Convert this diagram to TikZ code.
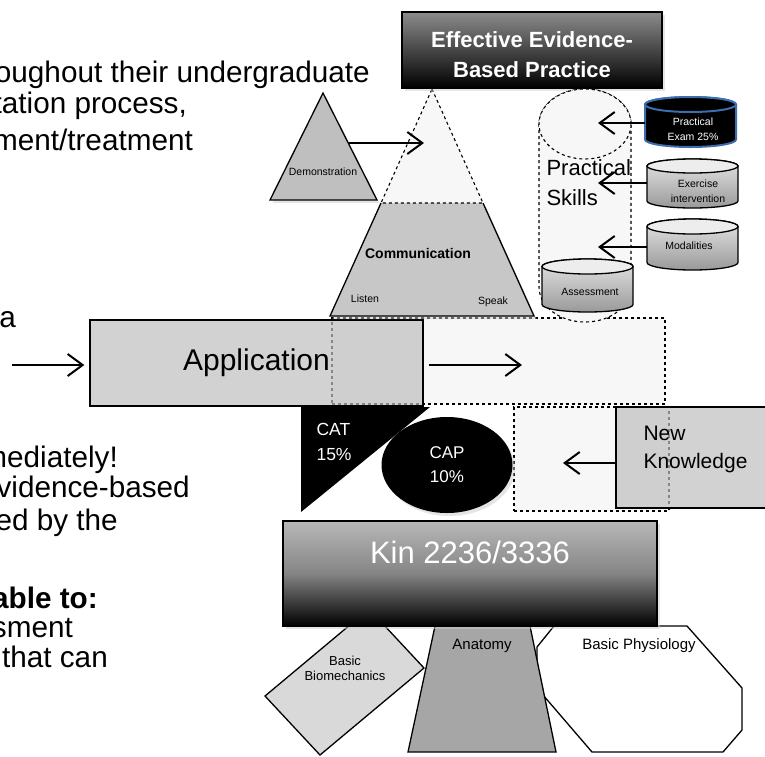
\documentclass[tikz,border=0pt]{standalone}
\usepackage{fontspec}
\setmainfont{Liberation Sans}
\usetikzlibrary{arrows.meta,shapes.geometric,shadows,positioning}

\definecolor{examblue}{RGB}{60,110,175}

% drum: name, centre x, top, bottom, x radius, y radius, body style, lid style
\newcommand{\drum}[8]{%
  \path[#7] ({#2-#5},{#3+#6}) -- ({#2-#5},{#4-#6})
    arc[start angle=180, end angle=360, x radius=#5pt, y radius=#6pt]
    -- ({#2+#5},{#3+#6})
    arc[start angle=0, end angle=180, x radius=#5pt, y radius=#6pt] -- cycle;
  \path[#8] (#2,{#3+#6}) ellipse[x radius=#5pt, y radius=#6pt];
  \coordinate (#1) at ({#2-#5},{(#3+#4)/2});
}

\tikzset{
  rim/.style={draw=black, line width=1.3pt},
  lift/.style={drop shadow={shadow xshift=2.5pt, shadow yshift=-3pt, fill=black!20}},
  darkbox/.style={rim, lift, rectangle, top color=black!45, bottom color=black, inner sep=0pt},
  flatbox/.style={rim, rectangle, fill=black!25, fill opacity=0.7, text opacity=1, inner sep=0pt},
  ghost/.style={draw=black, dashed, line width=1.1pt, fill=black!3},
  barb/.style={line width=2pt, -{Straight Barb[length=15pt, width=22pt, line width=2pt]}},
  greybody/.style={rim, top color=black!10, bottom color=black!40},
  greylid/.style={rim, fill=black!7},
  slide/.style={anchor=base east, inner sep=0pt, font=\fontsize{29.7}{34}\selectfont},
  smalltxt/.style={font=\fontsize{10.5}{15}\selectfont, inner sep=0pt, align=center},
}

\begin{document}
\begin{tikzpicture}[x=1pt,y=-1pt]
\useasboundingbox (0,0) rectangle (765,756);

% cut-off slide text
\node[slide] (l1) at (370,82) {oughout their undergraduate};
\node[slide] (l2) at (187,113) {tation process,};
\node[slide] (l3) at (193,150) {ment/treatment};
\node[slide] (l4) at (16,327) {a};
\node[slide] (l5) at (118,467) {mediately!};
\node[slide] (l6) at (190,497) {vidence-based};
\node[slide] (l7) at (118,530) {ed by the};
\node[slide, font=\fontsize{29.7}{34}\selectfont\bfseries] (l8) at (98,608) {able to:};
\node[slide] (l9) at (73,637) {sment};
\node[slide] (l10) at (108,667) {that can};

% dashed areas
\node[ghost, minimum width=333, minimum height=86, inner sep=0pt] (reach) at (498.5,361) {};
\node[ghost, minimum width=155, minimum height=104, inner sep=0pt] (gap) at (591.5,459) {};

% application and new knowledge
\node[flatbox, minimum width=333, minimum height=86, font=\fontsize{30}{34}\selectfont] (app) at (256.5,363) {Application};
\node[flatbox, minimum width=154, minimum height=101] (newk) at (693,457.5) {};
\node[anchor=west, align=left, font=\fontsize{21}{28}\selectfont] (newkLbl) at (640,449) {New\\Knowledge};

% demonstration
\draw[rim, lift, fill=black!25] (323,93) -- (377,200) -- (270,200) -- cycle;
\node[smalltxt] (demo) at (323,172) {Demonstration};

% pyramid
\coordinate (apex) at (432,89);
\coordinate (midL) at (381,203);
\coordinate (midR) at (483,203);
\coordinate (baseL) at (330,316);
\coordinate (baseR) at (534,316);
\fill[black!22, lift] (midL) -- (midR) -- (baseR) -- (baseL) -- cycle;
\draw[rim] (midL) -- (baseL) -- (baseR) -- (midR);
\draw[ghost] (apex) -- (midR) -- (midL) -- cycle;
\node[font=\fontsize{14}{16}\selectfont\bfseries] (comm) at (418,253) {Communication};
\node[smalltxt] (listen) at (365,299) {Listen};
\node[smalltxt] (speak) at (493,302) {Speak};

% top goal
\node[darkbox, minimum width=260, minimum height=76] (ebp) at (532,50) {};
\node[align=center, text=white, font=\fontsize{22}{30}\selectfont\bfseries] (ebpLbl) at (532,55) {Effective Evidence-\\Based Practice};

% practical skills
\drum{skills}{585}{89}{322}{46}{35}{ghost}{ghost}
\node[anchor=west, align=left, font=\fontsize{22}{30}\selectfont] (skillsLbl) at (543,183) {Practical\\Skills};
\drum{exam}{690.5}{97}{147}{45.5}{7.5}{draw=examblue, line width=2pt, fill=black}{draw=examblue, line width=2pt, fill=black}
\node[smalltxt, text=white] (examLbl) at (693,129.5) {Practical\\Exam 25\%};
\drum{exer}{692.5}{159}{208}{45.5}{7}{greybody}{greylid}
\node[smalltxt] (exerLbl) at (698,191.5) {Exercise\\intervention};
\drum{modal}{692.5}{219}{270}{45.5}{7.5}{greybody}{greylid}
\node[smalltxt] (modalLbl) at (689,246) {Modalities};
\drum{assess}{587.5}{259}{312}{45.5}{7.5}{greybody}{greylid}
\node[smalltxt] (assessLbl) at (590,292) {Assessment};

% assignments
\fill[black] (301,407) -- (430,407) -- (301,512) -- cycle;
\node[anchor=west, align=left, text=white, font=\fontsize{17.5}{25}\selectfont] (cat) at (313,441.5) {CAT\\15\%};
\node[ellipse, fill=black, lift, minimum width=131, minimum height=96, text=white, align=center, font=\fontsize{17}{24}\selectfont] (cap) at (447,465) {CAP\\10\%};

% foundations
\draw[rim, fill=white] (554,626) -- (687,626) -- (742,688) -- (742,730) -- (723,752) -- (592,752) -- (537,688) -- (537,647) -- cycle;
\node[font=\fontsize{15}{17}\selectfont] (physio) at (639,646) {Basic Physiology};
\draw[rim, fill=black!35] (435,626) -- (530,626) -- (556,752) -- (408,752) -- cycle;
\node[font=\fontsize{15}{17}\selectfont] (anat) at (482,646) {Anatomy};
\draw[rim, fill=black!15] (265,696) -- (369,609) -- (424,668) -- (320,755) -- cycle;
\node[align=center, font=\fontsize{13}{15}\selectfont] (biomech) at (345,668) {Basic\\Biomechanics};
\node[darkbox, top color=black!28, bottom color=black, middle color=black!48, minimum width=374, minimum height=105] (kin) at (470,573.5) {};
\node[text=white, font=\fontsize{31}{34}\selectfont] (kinLbl) at (470,552) {Kin 2236/3336};

% arrows
\coordinate (src) at (12,365);
\coordinate (demoOut) at (349,143);
\coordinate (pyrIn) at (424,143);
\coordinate (appOut) at (429,365);
\coordinate (reachIn) at (522,365);
\coordinate (gapIn) at (563,463);
\coordinate (tipA) at (598,123);
\coordinate (tipB) at (598,183);
\coordinate (tipC) at (598,247);
\draw[barb, shorten >=5pt] (src) -- (src -| app.west);
\draw[barb] (demoOut) -- (pyrIn);
\draw[barb] (appOut) -- (reachIn);
\draw[barb] (gapIn -| newk.west) -- (gapIn);
\draw[barb] (exam |- tipA) -- (tipA);
\draw[barb] (exer |- tipB) -- (tipB);
\draw[barb] (modal |- tipC) -- (tipC);
\end{tikzpicture}
\end{document}
